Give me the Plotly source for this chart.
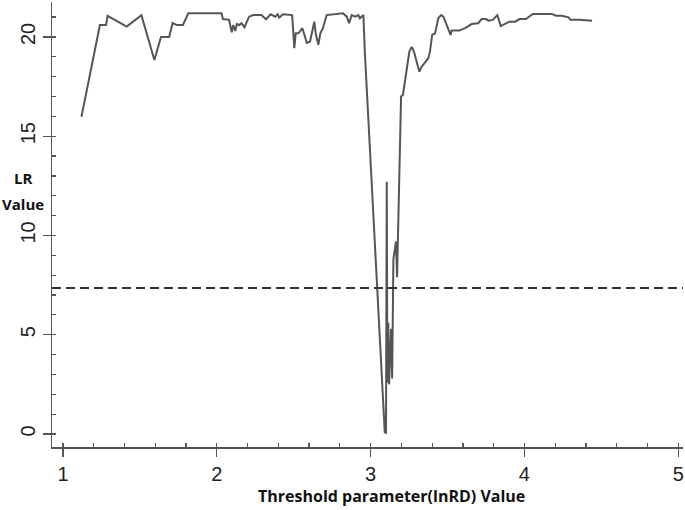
import plotly.graph_objects as go

threshold = [1.12, 1.24, 1.28, 1.29, 1.414, 1.51, 1.594, 1.637, 1.69, 1.713, 1.74, 1.78, 1.815,
             2.03, 2.04, 2.08, 2.097, 2.107, 2.12, 2.13, 2.146, 2.16, 2.18, 2.21, 2.237, 2.29,
             2.32, 2.35, 2.38, 2.396, 2.406, 2.43, 2.49, 2.504, 2.513, 2.53, 2.54, 2.556, 2.57,
             2.585, 2.606, 2.617, 2.634, 2.643, 2.66, 2.673, 2.69, 2.714, 2.82, 2.845, 2.86,
             2.877, 2.90, 2.92, 2.93, 2.953, 2.962, 3.092, 3.100, 3.105, 3.109, 3.115, 3.120,
             3.133, 3.140, 3.148, 3.165, 3.172, 3.176, 3.186, 3.191, 3.198, 3.21, 3.252, 3.267,
             3.282, 3.317, 3.332, 3.375, 3.386, 3.40, 3.419, 3.44, 3.458, 3.473, 3.51, 3.52,
             3.527, 3.577, 3.614, 3.657, 3.70, 3.722, 3.75, 3.765, 3.794, 3.824, 3.846, 3.874,
             3.902, 3.94, 3.967, 4.01, 4.054, 4.178, 4.205, 4.243, 4.286, 4.30, 4.36, 4.44]
lr_value = [15.98, 20.6, 20.6, 21.06, 20.52, 21.1, 18.84, 20.0, 20.0, 20.7, 20.6, 20.6, 21.19,
            21.19, 20.9, 20.86, 20.24, 20.6, 20.3, 20.65, 20.6, 20.69, 20.49, 21.02, 21.1, 21.1,
            20.89, 21.14, 21.02, 21.14, 20.97, 21.14, 21.1, 19.43, 20.18, 20.18, 20.27, 20.44, 20.1,
            19.7, 19.76, 20.18, 20.77, 20.18, 19.6, 20.18, 20.44, 21.1, 21.19, 21.02, 20.69,
            21.1, 21.02, 21.1, 20.94, 21.1, 19.3, 0.08, 0.05, 12.7, 2.6, 5.6, 2.5,
            5.3, 2.8, 8.8, 9.7, 7.9, 9.6, 12.1, 15.8, 17.0, 17.08, 19.26, 19.5,
            19.26, 18.25, 18.5, 18.93, 19.26, 20.1, 20.18, 20.94, 21.1, 21.02, 20.27, 20.1,
            20.32, 20.32, 20.44, 20.65, 20.69, 20.9, 20.9, 20.82, 20.86, 21.1, 20.55, 20.65,
            20.77, 20.77, 20.9, 20.9, 21.16, 21.16, 21.07, 21.07, 20.99, 20.86, 20.86, 20.82]
critical_value = 7.35

x_ticks = [1, 2, 3, 4, 5]
y_ticks = [0, 5, 10, 15, 20]

fig = go.Figure()
fig.add_trace(go.Scatter(x=threshold, y=lr_value, mode="lines",
                         line=dict(color="#555555", width=2), showlegend=False, hoverinfo="skip"))
fig.add_shape(type="line", xref="paper", x0=0, x1=1, yref="y", y0=critical_value, y1=critical_value,
              line=dict(color="#333333", width=2, dash="9px,5px"))

axis_common = dict(showline=True, linecolor="#555555", linewidth=1.5, showgrid=False, zeroline=False,
                   ticks="outside", ticklen=8, tickwidth=1.3, tickcolor="#555555", automargin=False,
                   tickfont=dict(family="Liberation Sans, Arial", size=20, color="#222222"))

fig.update_xaxes(range=[0.9285, 5.031], tickvals=x_ticks, ticktext=[str(v) for v in x_ticks],
                 minor=dict(ticks="inside", ticklen=4, dtick=0.2, tick0=1, tickcolor="#555555", tickwidth=1.2),
                 **axis_common)
fig.update_yaxes(range=[-0.655, 21.76], tickvals=y_ticks, ticktext=[str(v) for v in y_ticks], tickangle=-90,
                 minor=dict(ticks="inside", ticklen=4, dtick=1, tick0=0, tickcolor="#555555", tickwidth=1.2),
                 **axis_common)

fig.add_annotation(text="<b>Threshold parameter(lnRD) Value</b>", xref="paper", yref="paper",
                   x=(391 - 52) / 631, y=(447 - 496) / 445, xanchor="center", yanchor="middle",
                   showarrow=False, font=dict(family="Open Sans", size=16, color="#111111"))
fig.add_annotation(text="<b>LR</b>", xref="paper", yref="paper",
                   x=(23 - 52) / 631, y=(447 - 178) / 445, xanchor="center", yanchor="middle",
                   showarrow=False, font=dict(family="Open Sans", size=15, color="#111111"))
fig.add_annotation(text="<b>Value</b>", xref="paper", yref="paper",
                   x=(23 - 52) / 631, y=(447 - 204) / 445, xanchor="center", yanchor="middle",
                   showarrow=False, font=dict(family="Open Sans", size=15, color="#111111"))

fig.update_layout(width=685, height=510, margin=dict(l=52, r=2, t=2, b=63, autoexpand=False),
                  plot_bgcolor="white", paper_bgcolor="white", hovermode=False)
fig.write_html("out.html", config={"displayModeBar": False, "staticPlot": True},
               post_script="document.body.style.margin='0';document.body.style.overflow='hidden';")
